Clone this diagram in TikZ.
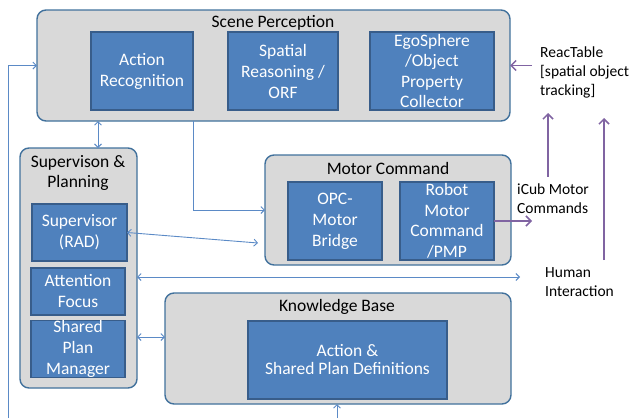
\documentclass[tikz,border=0pt]{standalone}
\usepackage{fontspec}
\setmainfont{Carlito}
\usetikzlibrary{arrows.meta,calc}
\definecolor{panelgray}{HTML}{D9D9D9}
\definecolor{panelline}{HTML}{41719C}
\definecolor{modulefill}{HTML}{4F81BD}
\definecolor{moduleline}{HTML}{385D8A}
\definecolor{linkblue}{HTML}{5B8AC6}
\definecolor{feedpurple}{HTML}{8064A2}
\tikzset{
  panel/.style={draw=panelline, fill=panelgray, line width=1.4pt, rounded corners=9pt, inner sep=0pt, outer sep=0pt},
  module/.style={draw=moduleline, fill=modulefill, line width=1.2pt, text=white, align=center,
    font=\fontsize{17.5}{21}\selectfont, inner sep=0pt, outer sep=0pt},
  paneltitle/.style={font=\fontsize{17.5}{20}\selectfont, align=center, inner sep=0pt},
  sidetext/.style={font=\fontsize{15.5}{19}\selectfont, align=left, inner sep=0pt, anchor=west},
  link/.style={draw=linkblue, line width=0.9pt, >={Straight Barb[length=3.5pt,width=7pt]}},
  feed/.style={draw=feedpurple, line width=1.5pt, ->, >={Straight Barb[length=5pt,width=10pt]}}
}
\begin{document}
\begin{tikzpicture}[x=1pt,y=-1pt]
\useasboundingbox (0,0) rectangle (629,418);

% scene perception
\node[panel, minimum width=473, minimum height=111] (scene) at (273.5,65.5) {};
\node[paneltitle] (scenetitle) at (273,23) {Scene Perception};
\node[module, minimum width=102, minimum height=78] (actrec) at (142,71) {Action\\Recognition};
\node[module, minimum width=110, minimum height=78] (spatial) at (283,71) {Spatial\\Reasoning /\\ORF};
\node[module, minimum width=124, minimum height=78, font=\fontsize{17.5}{20.5}\selectfont] (ego) at (432,71)
  {EgoSphere\\/Object\\Property\\Collector};

% supervision and planning
\node[panel, minimum width=117, minimum height=240] (superv) at (78.5,268) {};
\node[paneltitle] (supertitle) at (78,173) {Supervison \&\\Planning};
\node[module, minimum width=95, minimum height=57] (rad) at (79.5,232.5) {Supervisor\\(RAD)};
\node[module, minimum width=94, minimum height=47] (attn) at (78,291.5) {Attention\\Focus};
\node[module, minimum width=94, minimum height=56] (spm) at (78,349) {Shared\\Plan\\Manager};

% motor command
\node[panel, minimum width=246, minimum height=110] (motor) at (388,210) {};
\node[paneltitle] (motortitle) at (388,168) {Motor Command};
\node[module, minimum width=94, minimum height=78] (opc) at (335,221) {OPC-\\Motor\\Bridge};
\node[module, minimum width=94, minimum height=78, font=\fontsize{17.5}{20.5}\selectfont] (robot) at (447,221)
  {Robot\\Motor\\Command\\/PMP};

% knowledge base
\node[panel, minimum width=346, minimum height=111] (kb) at (338,348.5) {};
\node[paneltitle] (kbtitle) at (337,307) {Knowledge Base};
\node[module, minimum width=199, minimum height=78, font=\fontsize{17.5}{18}\selectfont] (apd) at (347.5,360)
  {Action \&\\Shared Plan Definitions};

% outside
\node[sidetext] (react) at (540,72) {ReacTable\\{[spatial object}\\tracking]};
\node[sidetext] (icub) at (517,199) {iCub Motor\\Commands};
\node[sidetext] (human) at (545,282) {Human\\Interaction};

\coordinate (fbfoot) at (8,418);
\coordinate (spvlink) at (98,0);
\coordinate (hilink) at (520,277);
\coordinate (kblink) at (150,337);
\coordinate (kbfoot) at (337,418);
\coordinate (icubup) at (548,113);
\coordinate (humanup) at (604,118);

\draw[link,->] (fbfoot) |- (scene.west);
\draw[link,<->] (scene.south -| spvlink) -- (superv.north -| spvlink);
\draw[link,->] (actrec.east |- scene.south) |- (motor.west);
\draw[link,<->] (rad.east) -- ($(motor.west)+(-7,33)$);
\draw[link,<->] (superv.east |- hilink) -- (hilink);
\draw[link,<->] (superv.east |- kblink) -- (kb.west |- kblink);
\draw[link,->] (kbfoot) -- (kbfoot |- kb.south);

\draw[feed] ([xshift=-8pt]react.west |- scene.east) -- (scene.east);
\draw[feed] ([yshift=7pt]icubup |- icub.north) -- (icubup);
\draw[feed] (humanup |- 0,260) -- (humanup);
\draw[feed] (robot.east) -- ++(38,0);
\end{tikzpicture}
\end{document}
